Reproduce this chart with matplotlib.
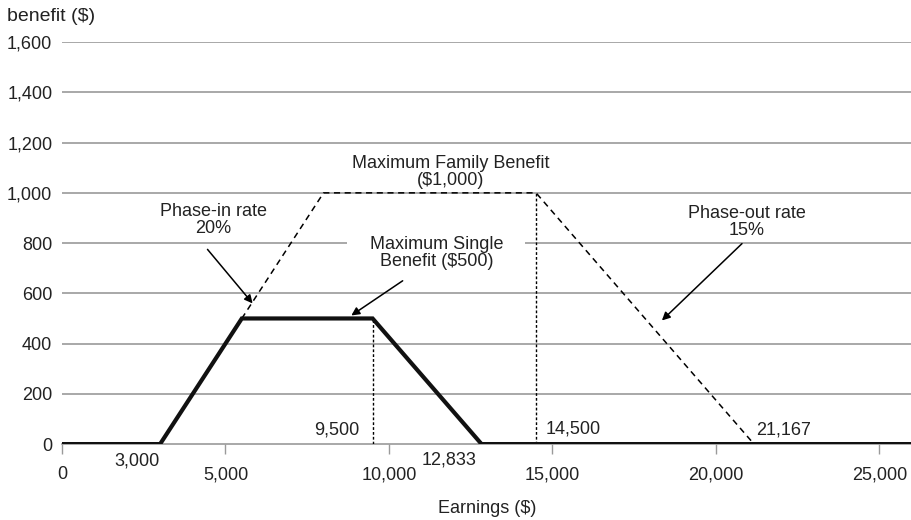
import matplotlib.pyplot as plt
from matplotlib.ticker import FuncFormatter

plt.rcParams['font.family'] = ['Liberation Sans', 'DejaVu Sans']

# Benefit schedules (earnings in $, benefit in $)
single_earn = [0, 3000, 5500, 9500, 12833, 26000]
single_benefit = [0, 0, 500, 500, 0, 0]
family_earn = [3000, 8000, 14500, 21167]
family_benefit = [0, 1000, 1000, 0]

# reference markers
single_max_end = 9500
family_max_end = 14500
x_ticks = [0, 5000, 10000, 15000, 20000, 25000]
y_ticks = [0, 200, 400, 600, 800, 1000, 1200, 1400, 1600]

txt = '#222222'
grid_c = '#9a9a9a'
fs = 13

fig = plt.figure(figsize=(9.12, 5.2), dpi=100)
ax = fig.add_axes([0.068, 0.146, 0.932, 0.773])

for y in y_ticks[1:]:
    ax.axhline(y, color=grid_c, lw=1.2, zorder=1)

ax.plot(family_earn, family_benefit, color='black', lw=1.1, ls=(0, (4, 3)), zorder=2)
ax.plot(single_earn, single_benefit, color='#111111', lw=3, zorder=4,
        solid_joinstyle='miter')
ax.plot([single_max_end, single_max_end], [0, 500], color='black', lw=1, ls=(0, (2, 1.5)), zorder=3)
ax.plot([family_max_end, family_max_end], [0, 1000], color='black', lw=1, ls=(0, (2, 1.5)), zorder=3)

ax.set_xlim(0, 26000)
ax.set_ylim(0, 1600)
ax.set_xticks(x_ticks)
ax.set_yticks(y_ticks)
fmt = FuncFormatter(lambda v, p: f'{int(v):,}')
ax.xaxis.set_major_formatter(fmt)
ax.yaxis.set_major_formatter(fmt)
ax.tick_params(axis='y', length=0, labelsize=fs, labelcolor=txt, pad=7)
ax.tick_params(axis='x', length=7, width=1, color=grid_c, labelsize=fs,
               labelcolor=txt, pad=9)
for s in ['left', 'top', 'right']:
    ax.spines[s].set_visible(False)
ax.spines['bottom'].set_color(grid_c)
ax.spines['bottom'].set_linewidth(1.2)
ax.spines['bottom'].set_zorder(1)

ax.set_xlabel('Earnings ($)', fontsize=fs, color=txt, labelpad=12)
fig.text(0.008, 0.968, 'benefit ($)', fontsize=14, color=txt, va='center')

# point labels
ax.text(9100, 58, '9,500', ha='right', va='center', fontsize=fs, color=txt)
ax.text(14780, 62, '14,500', ha='left', va='center', fontsize=fs, color=txt)
ax.text(21230, 58, '21,167', ha='left', va='center', fontsize=fs, color=txt)
ax.text(2300, -68, '3,000', ha='center', va='center', fontsize=fs, color=txt,
        clip_on=False)
ax.text(11850, -64, '12,833', ha='center', va='center', fontsize=fs, color=txt,
        clip_on=False)

arrow = dict(arrowstyle='-|>', color='black', lw=1.1, mutation_scale=12,
             shrinkA=0, shrinkB=0)

ax.text(4620, 890, 'Phase-in rate\n20%', ha='center', va='center', fontsize=fs,
        color=txt, linespacing=1.0)
ax.annotate('', xy=(5830, 560), xytext=(4450, 775), arrowprops=arrow, zorder=5)

ax.text(11450, 762, 'Maximum Single\nBenefit ($500)', ha='center', va='center',
        fontsize=fs, color=txt, linespacing=1.0, zorder=3,
        bbox=dict(facecolor='white', edgecolor='none', pad=16))
ax.annotate('', xy=(8850, 512), xytext=(10420, 650), arrowprops=arrow, zorder=5)

ax.text(20950, 885, 'Phase-out rate\n15%', ha='center', va='center', fontsize=fs,
        color=txt, linespacing=1.0)
ax.annotate('', xy=(18350, 492), xytext=(20800, 798), arrowprops=arrow, zorder=5)

ax.text(11900, 1082, 'Maximum Family Benefit\n($1,000)', ha='center', va='center',
        fontsize=fs, color=txt, linespacing=1.0)

fig.savefig('out.png', dpi=100)
